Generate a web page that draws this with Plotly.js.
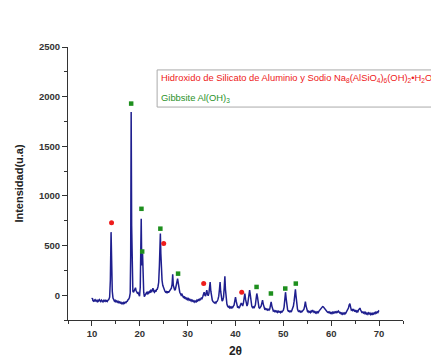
<!DOCTYPE html>
<html>
<head>
<meta charset="utf-8">
<script src="https://cdn.plot.ly/plotly-3.0.1.min.js"></script>
<style>html,body{margin:0;padding:0;background:#fff;}#chart{width:431px;height:358px;}</style>
</head>
<body>
<div id="chart"></div>
<script>
// 2-theta positions (degrees) and intensity (u.a.)
var twoTheta = [
10.0,10.1,10.2,10.35,10.5,10.65,10.8,10.95,11.1,11.25,11.4,11.55,11.7,11.85,12.0,12.15,12.3,12.45,12.6,12.75,12.9,13.05,13.2,13.35,13.5,13.7,13.85,14.0,14.12,14.25,14.4,14.55,14.7,14.85,15.0,15.15,15.3,15.45,15.6,15.75,15.9,16.05,16.2,16.35,16.5,16.65,16.8,16.95,17.1,17.25,17.4,17.55,17.7,17.85,18.0,18.1,18.2,18.3,18.4,18.55,18.7,18.85,19.0,19.1,19.2,19.35,19.5,19.65,19.8,19.95,
20.1,20.22,20.3,20.4,20.48,20.58,20.7,20.82,20.95,21.1,21.25,21.4,21.55,21.7,21.85,22.0,22.15,22.3,22.45,22.6,22.75,22.9,23.05,23.2,23.35,23.5,23.65,23.8,23.95,24.1,24.22,24.3,24.4,24.5,24.65,24.8,24.95,25.1,25.25,25.4,25.55,25.7,25.85,26.0,26.15,26.3,26.45,26.6,26.75,26.88,27.0,27.15,27.3,27.45,27.6,27.75,27.9,28.05,28.2,28.35,28.5,28.65,28.8,28.95,29.1,29.25,29.4,29.55,29.7,29.85,
30.0,30.15,30.3,30.45,30.6,30.75,30.9,31.05,31.2,31.35,31.5,31.65,31.8,31.95,32.1,32.25,32.4,32.55,32.7,32.85,33.0,33.15,33.3,33.45,33.6,33.75,33.9,34.0,34.15,34.3,34.45,34.6,34.7,34.85,35.0,35.15,35.3,35.45,35.6,35.75,35.9,36.05,36.2,36.35,36.5,36.65,36.78,36.9,37.05,37.2,37.35,37.5,37.65,37.78,37.9,38.05,38.2,38.35,38.5,38.65,38.8,38.95,39.1,39.25,39.4,39.55,39.7,39.85,
40.0,40.15,40.3,40.45,40.6,40.75,40.9,41.05,41.2,41.35,41.5,41.65,41.8,41.95,42.1,42.25,42.4,42.55,42.7,42.85,42.95,43.1,43.25,43.4,43.55,43.7,43.85,44.0,44.15,44.3,44.45,44.6,44.75,44.9,45.05,45.2,45.35,45.5,45.65,45.8,45.95,46.1,46.25,46.4,46.55,46.7,46.85,47.0,47.15,47.3,47.45,47.6,47.75,47.9,48.05,48.2,48.35,48.5,48.65,48.8,48.95,49.1,49.25,49.4,49.55,49.7,49.85,
50.0,50.15,50.3,50.45,50.6,50.75,50.9,51.05,51.2,51.35,51.5,51.65,51.8,51.95,52.1,52.25,52.4,52.52,52.65,52.8,52.95,53.1,53.25,53.4,53.55,53.7,53.85,54.0,54.15,54.3,54.45,54.6,54.75,54.9,55.05,55.2,55.35,55.5,55.65,55.8,55.95,56.1,56.25,56.4,56.55,56.7,56.85,57.0,57.15,57.3,57.45,57.6,57.75,57.9,58.05,58.2,58.35,58.5,58.65,58.8,58.95,59.1,59.25,59.4,59.55,59.7,59.85,
60.0,60.15,60.3,60.45,60.6,60.75,60.9,61.05,61.2,61.35,61.5,61.65,61.8,61.95,62.1,62.25,62.4,62.55,62.7,62.85,63.0,63.15,63.3,63.45,63.6,63.75,63.9,64.05,64.2,64.35,64.5,64.65,64.8,64.95,65.1,65.25,65.4,65.55,65.7,65.85,66.0,66.15,66.3,66.45,66.6,66.75,66.9,67.05,67.2,67.35,67.5,67.65,67.8,67.95,68.1,68.25,68.4,68.55,68.7,68.85,69.0,69.15,69.3,69.45,69.6,69.75,69.9,70.0
];
var intensity = [
-40,-30,-55,-60,-50,-62,-48,-58,-66,-52,-60,-45,-58,-64,-50,-57,-68,-54,-60,-47,-62,-55,-63,-50,-45,-20,150,635,300,40,-30,-45,-60,-52,-66,-58,-70,-62,-75,-68,-80,-72,-85,-78,-88,-74,-82,-70,-76,-64,-60,-45,-38,-20,20,400,1845,700,100,40,30,45,60,75,50,35,20,25,5,-10,
80,500,770,350,300,420,150,30,-15,-5,10,25,15,30,20,35,25,55,30,45,70,40,30,45,35,55,60,85,130,300,560,620,420,250,150,100,70,55,40,30,35,20,40,25,35,45,55,70,110,210,100,55,50,60,90,120,167,120,60,30,15,0,10,-15,-20,-10,-30,-25,-40,-30,
-45,-35,-50,-42,-55,-48,-60,-52,-65,-58,-70,-60,-66,-50,-58,-45,-52,-40,-45,-30,-35,-15,20,30,0,-10,30,50,10,-5,20,90,133,40,-20,-50,-65,-72,-78,-70,-80,-65,-60,-40,-10,60,133,40,-40,-60,-50,-20,80,190,60,-50,-90,-110,-120,-112,-128,-120,-132,-118,-125,-110,-100,-60,
-20,-60,-110,-125,-118,-130,-115,-100,-80,-90,-110,-80,-20,17,-40,-100,-110,-90,-40,30,50,0,-80,-110,-125,-118,-130,-115,-100,-40,17,-20,-100,-125,-130,-120,-110,-80,-50,-90,-130,-140,-135,-145,-138,-150,-142,-150,-140,-110,-67,-110,-150,-160,-155,-165,-158,-168,-160,-172,-162,-170,-165,-175,-163,-170,-160,
-150,-120,-40,30,-40,-120,-150,-162,-158,-168,-160,-170,-155,-140,-110,-60,20,60,-10,-100,-140,-160,-165,-158,-170,-162,-168,-160,-150,-140,-110,-65,-110,-150,-165,-160,-172,-165,-175,-160,-168,-150,-165,-172,-165,-178,-170,-180,-168,-175,-160,-150,-140,-130,-125,-115,-118,-130,-140,-152,-158,-165,-172,-168,-178,-170,-182,
-175,-185,-172,-180,-170,-178,-168,-175,-165,-172,-160,-170,-180,-175,-188,-180,-192,-182,-190,-178,-185,-170,-160,-150,-130,-100,-85,-120,-150,-145,-160,-140,-155,-165,-150,-168,-160,-172,-150,-140,-130,-150,-170,-178,-165,-180,-172,-185,-175,-190,-182,-192,-178,-188,-180,-195,-185,-198,-182,-190,-178,-186,-172,-180,-168,-175,-160,-165
];
// Phase markers
var hidroxidoX = [14.1, 25.0, 33.35, 41.3];
var hidroxidoY = [730, 520, 117, 30];
var gibbsiteX = [18.2, 20.35, 20.5, 24.3, 28.0, 44.4, 47.4, 50.4, 52.6];
var gibbsiteY = [1930, 870, 440, 670, 217, 83, 17, 67, 117];

var xRange = [5, 75];
var yRange = [-250, 2500];
var legendRed = 'Hidroxido de Silicato de Aluminio y Sodio Na<sub>8</sub>(AlSiO<sub>4</sub>)<sub>6</sub>(OH)<sub>2</sub>•H<sub>2</sub>O';
var legendGreen = 'Gibbsite Al(OH)<sub>3</sub>';

var traces = [
  {x: twoTheta, y: intensity, type: 'scatter', mode: 'lines',
   line: {color: '#1f1f8f', width: 1.5}, showlegend: false, hoverinfo: 'skip'},
  {x: hidroxidoX, y: hidroxidoY, type: 'scatter', mode: 'markers',
   marker: {color: '#ee1c1c', size: 5, symbol: 'circle'}, showlegend: false},
  {x: gibbsiteX, y: gibbsiteY, type: 'scatter', mode: 'markers',
   marker: {color: '#1e8f1e', size: 4.5, symbol: 'square'}, showlegend: false}
];

var layout = {
  width: 431, height: 358,
  margin: {l: 68, r: 28, t: 47, b: 38},
  paper_bgcolor: '#fff', plot_bgcolor: '#fff',
  showlegend: false,
  xaxis: {
    range: xRange, dtick: 10, tick0: 0, ticks: 'outside', ticklen: 5, tickwidth: 1,
    tickcolor: '#333', showline: true, linecolor: '#333', linewidth: 1,
    showgrid: false, zeroline: false, mirror: false,
    minor: {dtick: 5, ticklen: 3, tickcolor: '#333', ticks: 'outside', showgrid: false},
    tickfont: {family: 'Liberation Sans, Arial, sans-serif', size: 9.5, color: '#333', weight: 'bold'},
    title: {text: '<b>2θ</b>', font: {family: 'Liberation Sans, Arial, sans-serif', size: 12, color: '#222'}, standoff: 10}
  },
  yaxis: {
    range: yRange, dtick: 500, tick0: 0, ticks: 'outside', ticklen: 5, tickwidth: 1,
    tickcolor: '#333', showline: true, linecolor: '#333', linewidth: 1,
    showgrid: false, zeroline: false, mirror: false,
    minor: {dtick: 250, ticklen: 3, tickcolor: '#333', ticks: 'outside', showgrid: false},
    tickfont: {family: 'Liberation Sans, Arial, sans-serif', size: 9.5, color: '#333', weight: 'bold'},
    title: {text: '<b>Intensidad(u.a)</b>', font: {family: 'Liberation Sans, Arial, sans-serif', size: 11, color: '#222'}, standoff: 13}
  },
  shapes: [
    {type: 'rect', xref: 'paper', yref: 'paper', x0: 0.266, x1: 1.2, y0: 0.78, y1: 0.916,
     line: {color: '#aaa', width: 1}, fillcolor: 'rgba(0,0,0,0)'}
  ],
  annotations: [
    {xref: 'paper', yref: 'paper', x: 0.272, y: 0.886, xanchor: 'left', yanchor: 'middle',
     text: legendRed, showarrow: false, align: 'left',
     font: {family: 'Liberation Sans, Arial, sans-serif', size: 9.4, color: '#ee2020'}},
    {xref: 'paper', yref: 'paper', x: 0.272, y: 0.813, xanchor: 'left', yanchor: 'middle',
     text: legendGreen, showarrow: false, align: 'left',
     font: {family: 'Liberation Sans, Arial, sans-serif', size: 9.4, color: '#2a922a'}}
  ]
};

Plotly.newPlot('chart', traces, layout, {displayModeBar: false, staticPlot: true});
</script>
</body>
</html>
